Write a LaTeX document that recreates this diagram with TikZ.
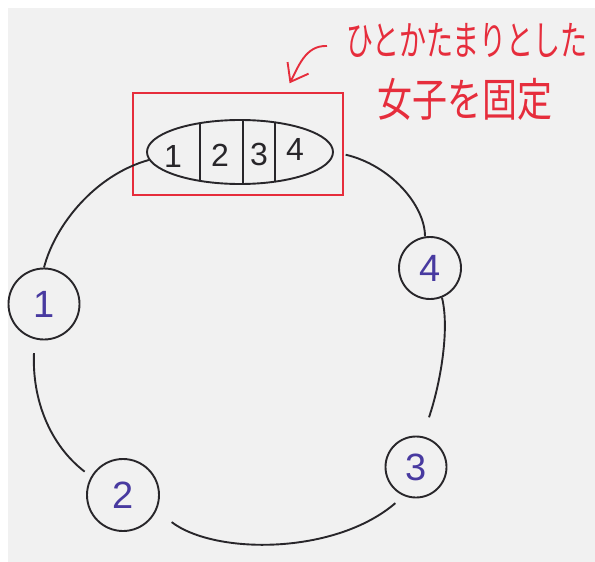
\documentclass[tikz,border=0pt]{standalone}
\usepackage{fontspec}
\setmainfont{Liberation Sans}
\newfontfamily\jpfont{Noto Sans CJK JP}
\usetikzlibrary{arrows.meta,shapes.geometric}
\definecolor{paper}{RGB}{241,241,241}
\definecolor{ink}{RGB}{40,38,42}
\definecolor{pen}{RGB}{72,58,160}
\definecolor{redpen}{RGB}{230,45,60}
\tikzset{
  seat/.style={circle,draw=ink,line width=1.9pt,minimum size=#1,inner sep=0pt,
    text=pen,font=\fontsize{38}{38}\selectfont},
  link/.style={draw=ink,line width=1.9pt},
  group/.style={ellipse,draw=ink,line width=1.9pt,inner sep=0pt},
  gdigit/.style={text=ink,font=\fontsize{32}{32}\selectfont,inner sep=0pt},
  redbox/.style={draw=redpen,line width=1.9pt,inner sep=0pt},
  redline/.style={draw=redpen,line width=1.9pt},
  jp/.style={text=redpen,inner sep=0pt}
}
\begin{document}
\begin{tikzpicture}[x=1pt,y=1pt]
\fill[white] (0,0) rectangle (595,-562);
\fill[paper] (8,-8) rectangle (595,-562);
\useasboundingbox (0,0) rectangle (595,-562);

% fixed group
\node[redbox,minimum width=210pt,minimum height=102pt] (R) at (238,-144) {};
\node[group,minimum width=186pt,minimum height=64pt] (E) at (240,-152) {};
\begin{scope}
  \clip (240,-152) ellipse (93 and 32);
  \draw[link] (200,-110) -- (200,-195);
  \draw[link] (243,-110) -- (243,-195);
  \draw[link] (275,-110) -- (275,-195);
\end{scope}
\node[gdigit] (e1) at (173,-156) {1};
\node[gdigit] (e2) at (220,-155) {2};
\node[gdigit] (e3) at (259,-154) {3};
\node[gdigit] (e4) at (295,-149) {4};

% seats
\node[seat=71pt] (n1) at (44,-304) {1};
\node[seat=72pt] (n2) at (123,-495) {2};
\node[seat=61pt] (n3) at (416,-467) {3};
\node[seat=62pt] (n4) at (430,-268) {4};

% ring
\draw[link] (E.185) .. controls (95,-175) and (55,-225) .. (n1.north);
\draw[link,shorten <=14pt,shorten >=8pt] (n1.255) .. controls (32,-400) and (50,-445) .. (n2.150);
\draw[link,shorten <=19pt,shorten >=11pt] (n2.-25) .. controls (215,-555) and (335,-555) .. (n3.247);
\draw[link,shorten <=20pt] (n3.78) .. controls (440,-385) and (450,-330) .. (n4.-68);
\draw[link,shorten >=12pt] (n4.99) .. controls (425,-205) and (390,-165) .. (E.east);

% annotation
\coordinate (a0) at (327,-46);
\draw[redline,-{Straight Barb[length=16pt,width=24pt]},shorten >=10pt]
  (a0) .. controls (305,-45) and (298,-68) .. (R.48);
\node[jp,font=\jpfont\fontsize{27}{27}\selectfont] (t1) at (467,-40) {\scalebox{1}[1.5]{ひとかたまりとした}};
\node[jp,font=\jpfont\fontsize{35}{35}\selectfont] (t2) at (465,-99) {\scalebox{1}[1.3]{女子を固定}};
\end{tikzpicture}
\end{document}
